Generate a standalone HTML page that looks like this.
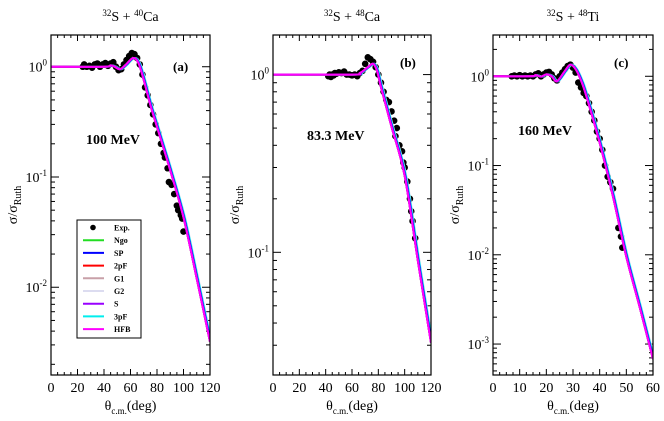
<!DOCTYPE html>
<html><head><meta charset="utf-8">
<style>
html,body{margin:0;padding:0;background:#fff;}
svg{display:block;font-family:"Liberation Serif",serif;}
</style></head>
<body>
<svg id="chart" width="664" height="421" viewBox="0 0 664 421" xmlns="http://www.w3.org/2000/svg"></svg>
<script>
// ---- Data ----
const thA_x=[0,40,45,48,52,56,62,66,70,75,80,90,100,110,120];
const thA_y=[1,1.0,1.03,1.0,0.95,1.03,1.2,1.08,0.76,0.45,0.285,0.115,0.043,0.012,0.0032];
const exA_x=[24,25,27,29,31,33,35,37,39,41,43,45,47,49,51,53,55,57,59,61,63,65,67,69,71,73,75,77,79,81,83,85,86,88,89,91,93,95,96,98,99,100];
const exA_y=[1.0,1.05,1.0,1.02,0.98,1.05,1.07,1.0,1.05,1.08,1.02,1.07,1.1,1.0,0.93,0.95,1.05,1.15,1.25,1.33,1.3,1.2,1.05,0.85,0.65,0.55,0.45,0.37,0.3,0.25,0.2,0.165,0.15,0.12,0.09,0.085,0.07,0.055,0.05,0.045,0.042,0.032];
const thB_x=[0,60,66,72,76,79,82,90,100,110,120];
const thB_y=[1,1.0,1.02,1.1,1.15,1.05,0.85,0.51,0.27,0.09,0.031];
const exB_x=[42,43,44,45,46,47,48,50,52,54,56,58,60,62,64,66,68,70,72,74,76,78,80,82,84,86,88,90,92,93,94,96,98,99,100,102,104,105,106,108];
const exB_y=[0.98,1.0,0.97,1.0,0.99,1.02,1.01,1.03,1.02,1.04,1.0,1.0,0.99,1.0,0.98,1.02,1.05,1.15,1.25,1.22,1.18,1.1,1.0,0.9,0.8,0.72,0.7,0.62,0.55,0.45,0.5,0.4,0.37,0.32,0.3,0.25,0.2,0.17,0.15,0.12];
const thC_x=[0,14,16,18,20,22,24,27,29,31,33,35,40,45,50,55,60];
const thC_y=[1,1.0,1.03,0.99,1.05,1.0,0.88,1.15,1.35,1.2,0.9,0.6,0.18,0.045,0.0095,0.0026,0.00068];
const exC_x=[7,8,9,10,11,12,13,14,15,16,17,18,19,20,21,22,23,24,25,26,27,28,29,30,31,32,33,34,35,36,37,38,39,40,41,42,43,44,45,47,48,48.5];
const exC_y=[1.0,1.02,1.0,1.03,1.0,1.02,1.0,1.02,1.0,1.05,1.08,1.0,1.05,1.1,1.12,1.05,0.95,0.9,1.0,1.1,1.2,1.3,1.35,1.25,1.1,0.85,0.75,0.65,0.6,0.5,0.4,0.32,0.24,0.2,0.15,0.1,0.075,0.065,0.055,0.02,0.016,0.012];
const legendLabels=["Exp.","Ngo","SP","2pF","G1","G2","S","3pF","HFB"];
const legendColors=["#000","#22dd22","#0000ff","#ff0000","#c8a0a8","#dcdcf0","#9900ff","#00eeee","#ff00ff"];

const NS="http://www.w3.org/2000/svg";
const svg=document.getElementById('chart');
function mk(tag,attrs,parent){const e=document.createElementNS(NS,tag);for(const k in attrs)e.setAttribute(k,attrs[k]);(parent||svg).appendChild(e);return e;}

const panels=[
 {id:'a',L:51,R:210,T:35,B:375,xmax:120,xstep:20,ymin:Math.log10(0.0016),ymax:Math.log10(1.94),decs:[0,-1,-2],tx:thA_x,ty:thA_y,ex:exA_x,ey:exA_y,title:['32','S + ','40','Ca'],energy:'100 MeV',ex0:86,ey0:144,lx:173,ly:71},
 {id:'b',L:273,R:431,T:35,B:375,xmax:120,xstep:20,ymin:Math.log10(0.0204),ymax:Math.log10(1.67),decs:[0,-1],tx:thB_x,ty:thB_y,ex:exB_x,ey:exB_y,title:['32','S + ','48','Ca'],energy:'83.3 MeV',ex0:307,ey0:140,lx:400,ly:67},
 {id:'c',L:493,R:653,T:35,B:375,xmax:60,xstep:10,ymin:Math.log10(0.00045),ymax:Math.log10(2.9),decs:[0,-1,-2,-3],tx:thC_x,ty:thC_y,ex:exC_x,ey:exC_y,title:['32','S + ','48','Ti'],energy:'160 MeV',ex0:518,ey0:135,lx:614,ly:67}
];

panels.forEach(p=>{
 const g=mk('g',{});
 const X=v=>p.L+(v/p.xmax)*(p.R-p.L);
 const Y=v=>p.T+(p.ymax-Math.log10(v))/(p.ymax-p.ymin)*(p.B-p.T);
 const cx=(p.L+p.R)/2;
 const t=mk('text',{x:cx,y:21,'text-anchor':'middle','font-size':'14'},g);
 
 
 t.innerHTML=`<tspan font-size="9" dy="-5">${p.title[0]}</tspan><tspan dy="5">${p.title[1]}</tspan><tspan font-size="9" dy="-5">${p.title[2]}</tspan><tspan dy="5">${p.title[3]}</tspan>`;
 const tk=mk('g',{stroke:'#000','stroke-width':'1'},g);
 
 
 const minorStep=p.xstep/4;
 for(let v=0;v<=p.xmax+1e-9;v+=minorStep){
  const major=Math.abs(v/p.xstep-Math.round(v/p.xstep))<1e-6;
  const len=major?6:3;const x=X(v);
  mk('line',{x1:x,y1:p.B,x2:x,y2:p.B-len},tk);
  mk('line',{x1:x,y1:p.T,x2:x,y2:p.T+len},tk);
  if(major){const lb=mk('text',{x:x,y:p.B+17,'text-anchor':'middle','font-size':'14',fill:'#000',stroke:'none'},g);
   
   
   lb.textContent=Math.round(v);}
 }
 for(let d=-4;d<=0;d++){for(let m=1;m<=9;m++){
  const v=m*Math.pow(10,d);const lv=Math.log10(v);
  if(lv<p.ymin||lv>p.ymax)continue;
  const y=Y(v);const len=m===1?8:4;
  mk('line',{x1:p.L,y1:y,x2:p.L+len,y2:y},tk);
  mk('line',{x1:p.R,y1:y,x2:p.R-len,y2:y},tk);
 }}
 p.decs.forEach(d=>{
  const lb=mk('text',{x:p.L-4,y:Y(Math.pow(10,d))+5,'text-anchor':'end','font-size':'14'},g);
  
  
  lb.innerHTML=`10<tspan font-size="9" dy="-6">${d}</tspan>`;
 });
 const xt=mk('text',{x:cx,y:p.B+35,'text-anchor':'middle','font-size':'14'},g);
 
 
 xt.innerHTML=`θ<tspan font-size="9" dy="4">c.m.</tspan><tspan dy="-4">(deg)</tspan>`;
 const yt=mk('text',{x:0,y:0,'text-anchor':'middle','font-size':'14',transform:`translate(${p.L-34},${(p.T+p.B)/2}) rotate(-90)`},g);
 
 
 yt.innerHTML=`σ/σ<tspan font-size="10" dy="4">Ruth</tspan>`;
 const cp=mk('clipPath',{id:'cp'+p.id},g);mk('rect',{x:p.L,y:p.T,width:p.R-p.L,height:p.B-p.T},cp);
 const plot=mk('g',{'clip-path':`url(#cp${p.id})`},g);
 // exp points first
 p.ex.forEach((x,i)=>{
  const c=mk('circle',{cx:X(x),cy:Y(p.ey[i]),r:3.3,fill:'#000'},plot);
  
  
 });
 const pts=p.tx.map((x,i)=>[X(x),Y(p.ty[i])]);
 function smooth(pp){let d=`M${pp[0][0]},${pp[0][1]}`;for(let i=0;i<pp.length-1;i++){const p0=pp[Math.max(0,i-1)],p1=pp[i],p2=pp[i+1],p3=pp[Math.min(pp.length-1,i+2)];
  d+=` C${p1[0]+(p2[0]-p0[0])/6},${p1[1]+(p2[1]-p0[1])/6} ${p2[0]-(p3[0]-p1[0])/6},${p2[1]-(p3[1]-p1[1])/6} ${p2[0]},${p2[1]}`;}return d;}
 const d=smooth(pts);
 const models=[['#dcdcf0',1.6],['#00eeee',1.2],['#0000ff',0.6],['#22dd22',0],['#ff0000',0],['#9900ff',0],['#ff00ff',0]];
 models.forEach((m,i)=>{
  const c=mk('path',{d:d,fill:'none',stroke:m[0],'stroke-width':'2',transform:`translate(${m[1]},0)`},plot);
  
  
 });
 const fr=mk('rect',{x:p.L,y:p.T,width:p.R-p.L,height:p.B-p.T,fill:'none',stroke:'#000','stroke-width':'1.2'},g);
 
 
 const el=mk('text',{x:p.ex0,y:p.ey0,'font-size':'14','font-weight':'bold'},g);
 
 
 el.textContent=p.energy;
 const pl=mk('text',{x:p.lx,y:p.ly,'font-size':'13','font-weight':'bold'},g);
 
 
 pl.textContent='('+p.id+')';
});

const lg=mk('g',{});


mk('rect',{x:77,y:220,width:64,height:118,fill:'#fff',stroke:'#000','stroke-width':'1'},lg);
legendLabels.forEach((lab,i)=>{
 const y=227.5+i*12.7;
 const en=mk('g',{},lg);
 
 
 if(i===0) mk('circle',{cx:93,cy:y,r:2.8,fill:'#000'},en);
 else mk('line',{x1:83,y1:y,x2:104,y2:y,stroke:legendColors[i],'stroke-width':'2'},en);
 const tx=mk('text',{x:114,y:y+3,'font-size':'8','font-weight':'bold'},en);
 tx.textContent=lab;
});
</script>
</body></html>
